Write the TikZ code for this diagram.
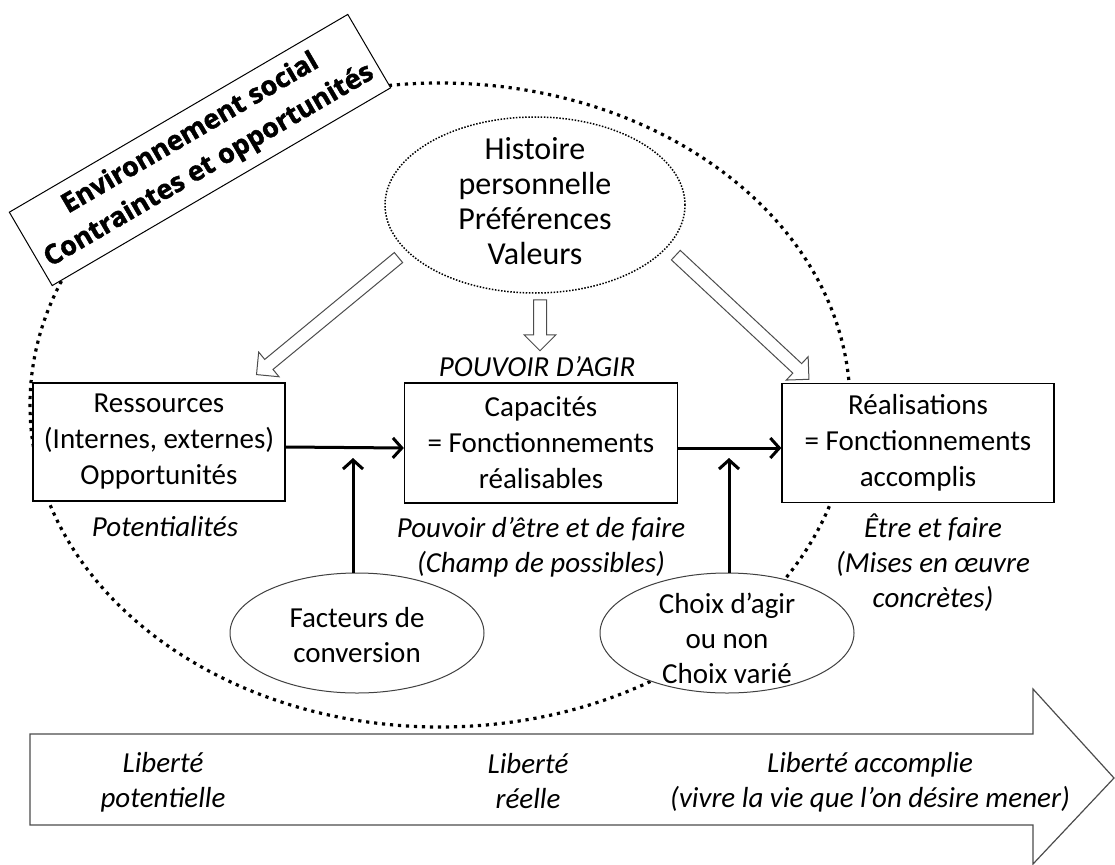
\documentclass[tikz,border=0pt]{standalone}
\usepackage{fontspec}
\setmainfont{Carlito}
\newfontfamily\titlefont{Open Sans}[BoldFeatures={FakeBold=1.6}]
\usetikzlibrary{shapes.geometric,shapes.arrows,arrows.meta}
\newcommand\bigtext{\fontsize{29}{35}\selectfont}

\begin{document}
\begin{tikzpicture}[x=1pt,y=-1pt,font=\bigtext]
    \tikzstyle{box}=[draw=black,line width=1.3pt,fill=white,minimum width=252pt,minimum height=118pt,align=center,inner sep=0pt,font=\fontsize{29}{36}\selectfont]
    \tikzstyle{oval}=[ellipse,draw=black!75,line width=1pt,fill=white,minimum width=254pt,minimum height=120pt,inner sep=0pt]
    \tikzstyle{lbl}=[align=center,font=\bigtext\itshape]
    \tikzstyle{push}=[line width=3pt,-{Straight Barb[length=9pt,width=20pt]}]
    \tikzstyle{hollow}=[single arrow,draw=black!70,line width=1pt,fill=white,inner sep=6pt,minimum width=31pt,single arrow head extend=9.5pt]
    \useasboundingbox (0,0) rectangle (1115,864);

    % environnement social
    \draw[line width=3.2pt,dash pattern=on 3.2pt off 4.8pt] (440,405) ellipse [x radius=410, y radius=322];
    \node[draw=black,line width=1pt,fill=white,rotate=30.3,minimum width=392pt,minimum height=85pt,align=center,font=\titlefont\bfseries\fontsize{27}{37}\selectfont] (env) at (200,150) {Environnement social\\Contraintes et opportunités};

    % histoire personnelle
    \node[ellipse,draw=black,line width=1.5pt,dash pattern=on 1.5pt off 1.6pt,minimum width=300pt,minimum height=176pt] (hist) at (535,205) {};
    \node[align=center,font=\fontsize{32}{35}\selectfont] (histtxt) at (535,201) {Histoire\\personnelle\\Préférences\\Valeurs};
    \node[hollow,rotate=-140.5,minimum height=184pt] (a1) at (330,314) {};
    \node[hollow,rotate=-90,minimum height=51pt] (a2) at (540,322) {};
    \node[hollow,rotate=-43,minimum height=182pt] (a3) at (740,315) {};

    % boxes
    \node[lbl] (agir) at (537,367) {POUVOIR D’AGIR};
    \node[box] (res) at (159,442) {Ressources\\(Internes, externes)\\Opportunités};
    \node[box,minimum width=273pt,minimum height=120pt] (cap) at (541,443) {Capacités\\= Fonctionnements\\réalisables};
    \node[box,minimum width=272pt,minimum height=119pt] (real) at (918,443) {Réalisations\\= Fonctionnements\\accomplis};
    \node[lbl] (pot) at (165,527) {Potentialités};
    \node[lbl] (pouv) at (541,547) {Pouvoir d’être et de faire\\(Champ de possibles)};
    \node[lbl] (etre) at (933,563) {Être et faire\\(Mises en œuvre\\concrètes)};

    % ovals
    \node[oval] (fac) at (357,633) {};
    \node[oval] (cho) at (727,633) {};
    \node[align=center] (factxt) at (357,635) {Facteurs de\\conversion};
    \node[align=center] (chotxt) at (727,638) {Choix d’agir\\ou non\\Choix varié};

    \coordinate (fj) at (353,458);
    \coordinate (cj) at (729,458);
    \draw[push] ([yshift=-5pt]res.east) -- ([yshift=-5pt]cap.west);
    \draw[push] ([yshift=-5pt]cap.east) -- ([yshift=-5pt]real.west);
    \draw[push] (fac.north -| fj) -- (fj);
    \draw[push] (cho.north -| cj) -- (cj);

    % liberte
    \draw[draw=black!70,line width=1.2pt] (30,734) -- (1033,734) -- (1033,689) -- (1114,778) -- (1033,864) -- (1033,825) -- (30,825) -- cycle;
    \node[lbl] (lib1) at (163,782) {Liberté\\potentielle};
    \node[lbl] (lib2) at (528,781) {Liberté\\réelle};
    \node[lbl] (lib3) at (870,782) {Liberté accomplie\\(vivre la vie que l’on désire mener)};
\end{tikzpicture}
\end{document}
